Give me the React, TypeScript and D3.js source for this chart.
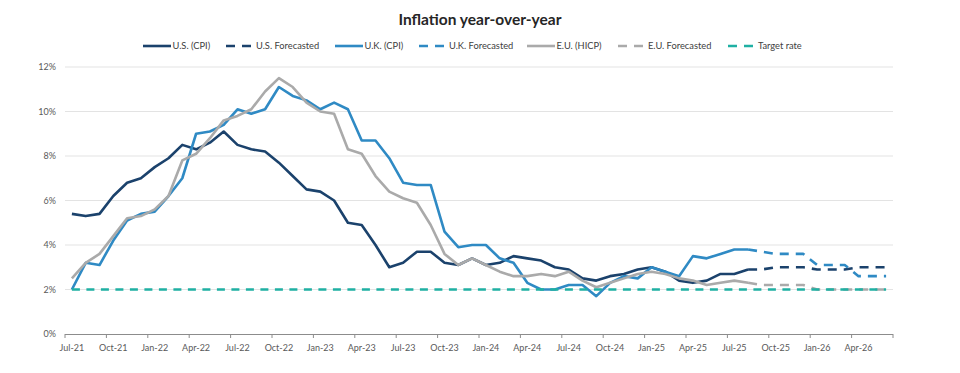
import React from "react";
import { scaleBand, scaleLinear, line, timeMonth, timeFormat } from "d3";

// months Jul-21 .. Jun-26, one band each
const months = timeMonth.range(new Date(2021, 6, 1), new Date(2026, 6, 1)).map(timeFormat("%b-%y"));
const tickLabels = ["Jul-21", "Oct-21", "Jan-22", "Apr-22", "Jul-22", "Oct-22", "Jan-23", "Apr-23", "Jul-23", "Oct-23",
  "Jan-24", "Apr-24", "Jul-24", "Oct-24", "Jan-25", "Apr-25", "Jul-25", "Oct-25", "Jan-26", "Apr-26"];
const yTicks = [0, 2, 4, 6, 8, 10, 12];

// actuals Jul-21 .. Aug-25
const usCpi = [5.4, 5.3, 5.4, 6.2, 6.8, 7.0,
  7.5, 7.9, 8.5, 8.3, 8.6, 9.1, 8.5, 8.3, 8.2, 7.7, 7.1, 6.5,
  6.4, 6.0, 5.0, 4.9, 4.0, 3.0, 3.2, 3.7, 3.7, 3.2, 3.1, 3.4,
  3.1, 3.2, 3.5, 3.4, 3.3, 3.0, 2.9, 2.5, 2.4, 2.6, 2.7, 2.9,
  3.0, 2.8, 2.4, 2.3, 2.4, 2.7, 2.7, 2.9];
const ukCpi = [2.0, 3.2, 3.1, 4.2, 5.1, 5.4,
  5.5, 6.2, 7.0, 9.0, 9.1, 9.4, 10.1, 9.9, 10.1, 11.1, 10.7, 10.5,
  10.1, 10.4, 10.1, 8.7, 8.7, 7.9, 6.8, 6.7, 6.7, 4.6, 3.9, 4.0,
  4.0, 3.4, 3.2, 2.3, 2.0, 2.0, 2.2, 2.2, 1.7, 2.3, 2.6, 2.5,
  3.0, 2.8, 2.6, 3.5, 3.4, 3.6, 3.8, 3.8];
const euHicp = [2.5, 3.2, 3.6, 4.4, 5.2, 5.3,
  5.6, 6.2, 7.8, 8.1, 8.8, 9.6, 9.8, 10.1, 10.9, 11.5, 11.1, 10.4,
  10.0, 9.9, 8.3, 8.1, 7.1, 6.4, 6.1, 5.9, 4.9, 3.6, 3.1, 3.4,
  3.1, 2.8, 2.6, 2.6, 2.7, 2.6, 2.8, 2.4, 2.1, 2.3, 2.5, 2.7,
  2.8, 2.7, 2.5, 2.4, 2.2, 2.3, 2.4, 2.3];

// forecasts Aug-25 .. Jun-26
const fcstStart = 49;
const usFcst = [2.9, 2.9, 3.0, 3.0, 3.0, 2.9, 2.9, 2.9, 3.0, 3.0, 3.0];
const ukFcst = [3.8, 3.7, 3.6, 3.6, 3.6, 3.1, 3.1, 3.1, 2.6, 2.6, 2.6];
const euFcst = [2.3, 2.2, 2.2, 2.2, 2.2, 2.0, 2.0, 2.0, 2.0, 2.0, 2.0];
const targetRate = 2;

const US = "#1b426c";
const UK = "#2f8ac4";
const EU = "#aaaaaa";
const TEAL = "#1fb0a3";
const FONT = "Lato, 'Open Sans', sans-serif";

const series = [
  { name: "U.S. (CPI)", color: US, dash: null, start: 0, values: usCpi },
  { name: "U.S. Forecasted", color: US, dash: "9,7", start: fcstStart, values: usFcst },
  { name: "U.K. (CPI)", color: UK, dash: null, start: 0, values: ukCpi },
  { name: "U.K. Forecasted", color: UK, dash: "9,7", start: fcstStart, values: ukFcst },
  { name: "E.U. (HICP)", color: EU, dash: null, start: 0, values: euHicp },
  { name: "E.U. Forecasted", color: EU, dash: "9,7", start: fcstStart, values: euFcst },
  { name: "Target rate", color: TEAL, dash: "8,6.5", start: 0, values: months.map(() => targetRate) },
];

const legendX = [143, 225, 335, 418, 527, 617, 727];

export default function App() {
  const x = scaleBand().domain(months).range([65, 893]).paddingInner(0).paddingOuter(0);
  const y = scaleLinear().domain([0, 12]).range([334, 67]);
  const cx = (i) => x(months[i]) + x.bandwidth() / 2;

  const tickIdx = months.map((m, i) => i).filter((i) => i % 3 === 0);

  return (
    <div style={{ position: "absolute", left: 0, top: 0 }}>
      <svg width={960} height={373} style={{ display: "block", background: "#fff" }} fontFamily={FONT}>
        <text x={480} y={25} textAnchor="middle" fontSize={15.5} fontWeight="bold" fill="#262626">
          Inflation year-over-year
        </text>

        {/* legend */}
        {series.map((s, k) => (
          <g key={s.name} transform={`translate(${legendX[k]},46)`}>
            {s.dash ? (
              <line x1={1} x2={27} y1={0} y2={0} stroke={s.color} strokeWidth={2.6} strokeDasharray="9,7" />
            ) : (
              <line x1={0} x2={28} y1={0} y2={0} stroke={s.color} strokeWidth={2.6} />
            )}
            <text x={s.dash ? 31 : 29.5} y={3.3} fontSize={9.3} fill="#404040">{s.name}</text>
          </g>
        ))}

        {/* grid + y labels */}
        {yTicks.map((t) => (
          <g key={t}>
            {t > 0 && <line x1={65} x2={893} y1={y(t)} y2={y(t)} stroke="#e3e3e3" strokeWidth={1} />}
            <text x={56} y={y(t) + 3.3} textAnchor="end" fontSize={9} fill="#595959">{t}%</text>
          </g>
        ))}

        {/* x axis */}
        <line x1={65} x2={893} y1={y(0) + 0.5} y2={y(0) + 0.5} stroke="#8c8c8c" strokeWidth={1} />
        {[...tickIdx.map((i) => x(months[i])), 893].map((px, k) => (
          <line key={k} x1={px} x2={px} y1={y(0)} y2={y(0) + 4} stroke="#8c8c8c" strokeWidth={1} />
        ))}
        {tickIdx.map((i, k) => (
          <text key={i} x={cx(i)} y={351} textAnchor="middle" fontSize={9} fill="#595959">{tickLabels[k]}</text>
        ))}

        {/* series */}
        {series.map((s) => {
          const path = line<number>()
            .x((d, i) => cx(s.start + i))
            .y((d) => y(d))(s.values);
          return (
            <path key={s.name} d={path} fill="none" stroke={s.color} strokeWidth={2.6}
              strokeLinejoin="round" strokeDasharray={s.dash || undefined} />
          );
        })}
      </svg>
    </div>
  );
}
